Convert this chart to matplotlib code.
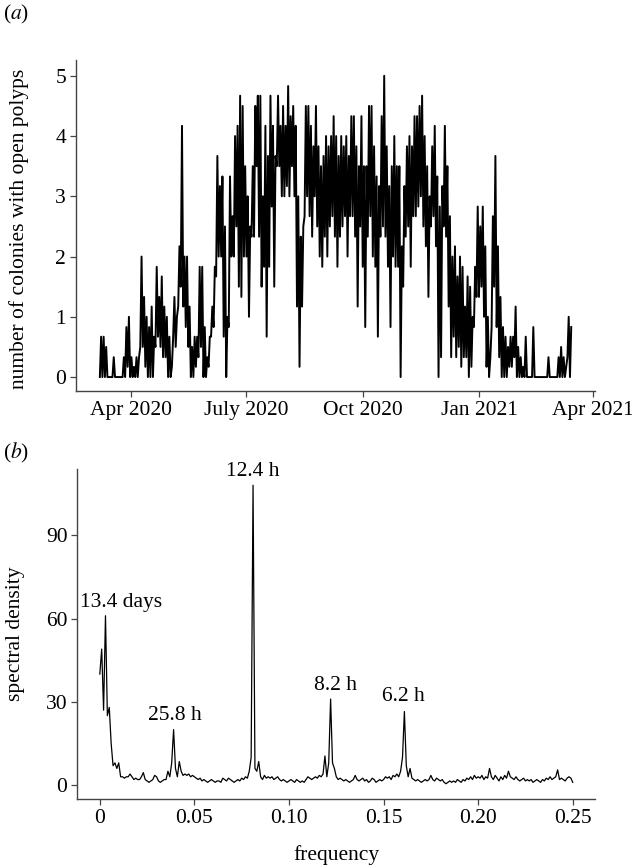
import numpy as np
import pandas as pd
import matplotlib
matplotlib.use("Agg")
import matplotlib.pyplot as plt

plt.rcParams['font.family'] = ['Liberation Serif', 'DejaVu Serif']
plt.rcParams['mathtext.fontset'] = 'stix'

# ---- panel (a): colonies with open polyps, 2-day blocks (high / low)
start_date = '2020-03-07'
open_hi = [0.67, 0.67, 0.5, 0, 0, 0.33, 0, 0, 0, 0.33,
           0.83, 1.0, 0.33, 0.17, 0.33, 0.33, 2.0, 1.33, 1.0, 0.83,
           1.17, 0.67, 1.83, 1.33, 1.67, 1.17, 1.0, 0.67, 0.17, 1.33,
           1.0, 2.17, 4.17, 2.0, 2.0, 1.17, 0.5, 0.67, 0.67, 1.83,
           1.83, 0.83, 0.33, 0.67, 1.17, 1.83, 3.67, 3.17, 3.33, 2.5,
           1.0, 3.33, 2.67, 4.0, 4.17, 4.67, 4.5, 3.5, 3.0, 2.5,
           3.5, 4.5, 4.67, 4.67, 3.0, 4.17, 3.67, 4.67, 4.17, 3.67,
           4.67, 4.17, 4.5, 4.17, 4.83, 4.33, 4.5, 4.17, 3.0, 2.33,
           2.5, 4.5, 4.5, 4.17, 3.83, 4.5, 3.83, 3.5, 3.67, 4.0,
           3.83, 4.0, 4.33, 4.0, 3.67, 4.0, 3.83, 4.0, 3.67, 4.33,
           4.33, 3.83, 3.5, 4.33, 3.5, 3.5, 4.5, 4.5, 3.83, 3.33,
           3.17, 4.33, 5.0, 3.83, 3.17, 3.5, 4.0, 3.5, 3.5, 2.17,
           3.17, 3.83, 4.0, 3.83, 4.33, 4.33, 4.5, 4.67, 4.0, 3.5,
           3.0, 3.83, 4.17, 3.33, 2.83, 3.17, 4.17, 3.5, 2.67, 2.0,
           2.17, 1.67, 2.0, 1.83, 1.17, 1.67, 1.5, 1.0, 1.83, 2.83,
           2.5, 2.83, 2.17, 1.0, 0.33, 2.67, 3.67, 2.17, 1.33, 0.83,
           0.67, 0.5, 0.67, 0.67, 1.17, 0.5, 0.33, 0.17, 0.67, 0,
           0, 0.83, 0, 0, 0, 0, 0, 0.33, 0, 0,
           0, 0.33, 0.5, 0.33, 0.17, 1.0, 0.83]
open_lo = [0, 0, 0, 0, 0, 0, 0, 0, 0, 0,
           0, 0.17, 0, 0, 0, 0, 0.5, 0.5, 0.17, 0,
           0, 0, 0.5, 0.67, 0.5, 0.33, 0.33, 0, 0, 0.67,
           0.5, 1.17, 1.5, 1.17, 0.83, 0.5, 0, 0, 0.17, 0.33,
           0.5, 0, 0, 0.17, 0.67, 0.83, 1.67, 2.0, 2.0, 0.67,
           0, 0.83, 2.0, 2.0, 2.5, 1.5, 1.33, 2.0, 2.0, 1.0,
           2.33, 2.33, 3.5, 2.33, 1.5, 1.83, 0.67, 1.83, 2.83, 1.5,
           3.5, 3.5, 3.0, 3.0, 3.17, 3.0, 3.5, 3.0, 1.17, 0.17,
           1.17, 2.67, 3.0, 2.67, 2.33, 3.0, 2.5, 2.0, 1.83, 2.33,
           2.0, 2.5, 2.67, 2.33, 1.83, 2.33, 2.5, 2.67, 2.0, 2.67,
           2.67, 2.33, 1.17, 2.5, 1.83, 0.83, 2.33, 2.67, 2.0, 1.83,
           0.67, 2.33, 2.5, 2.33, 1.83, 0.83, 2.0, 1.83, 1.83, 0,
           1.5, 2.33, 2.5, 1.83, 2.67, 2.67, 2.83, 3.0, 2.5, 2.17,
           1.33, 2.5, 2.67, 2.17, 0, 0.33, 2.5, 2.33, 1.17, 0.33,
           0.67, 0.33, 0.5, 0.17, 0.33, 0.33, 0, 0.17, 0.83, 1.33,
           1.33, 1.5, 1.0, 0.17, 0, 0.83, 1.5, 0.83, 0.33, 0,
           0, 0, 0.17, 0.17, 0.33, 0, 0, 0, 0, 0,
           0, 0, 0, 0, 0, 0, 0, 0, 0, 0,
           0, 0, 0, 0, 0, 0.33, 0]

# ---- panel (b): spectral density on a 0.001 frequency grid
freq = np.round(np.arange(0, 0.2505, 0.001), 3)
spec = [40, 49, 27, 61, 25, 28, 15, 7, 8, 6,
        8, 3, 3, 2.5, 3, 3, 4, 3, 2, 2.5,
        2, 2, 3, 4.5, 2, 1.5, 1, 1.5, 2, 3.5,
        3, 1.5, 1, 1.5, 2, 2, 5, 3, 8, 20,
        6, 3, 8.5, 5, 3.5, 4, 3.5, 4, 3, 3.5,
        3, 2.5, 2, 2.5, 1.5, 2, 1.5, 1, 1.5, 2,
        1.5, 1, 1.5, 1.5, 1, 2.5, 2, 1.5, 2.5, 2,
        1.5, 1, 1.5, 2, 1.5, 2.5, 2, 3, 2.5, 5,
        10, 108, 6, 5, 8.5, 3, 2, 3.5, 2.5, 3,
        2.5, 3, 2, 2.5, 3, 2, 1.5, 2, 1.5, 1,
        1.5, 2, 1.5, 1, 2, 1.5, 1, 1.5, 1, 2,
        3, 2.5, 2, 2.5, 3, 2.5, 3.5, 3, 4, 10.5,
        3, 8, 31, 8, 6, 3, 2, 2.5, 2, 1.5,
        2, 1.5, 1, 1.5, 2, 3.5, 2, 1.5, 2, 2.5,
        1.5, 2, 1, 1.5, 2.5, 2, 1, 1.5, 2, 1.5,
        2, 3, 2.5, 3, 2, 3.5, 3, 4, 3, 5,
        10, 26.5, 7, 3, 6, 2.5, 2, 1.5, 2, 1.5,
        1, 1.5, 2, 1.5, 2, 3.5, 2, 1.5, 2.5, 2,
        1.5, 2, 1, 0.5, 1, 1.5, 1, 1.5, 1, 2,
        1.5, 1, 2, 1.5, 2.5, 2, 3, 2, 3.5, 2.5,
        3, 2.5, 3.5, 2, 3, 2.5, 6, 3, 2, 3.5,
        2.5, 1.5, 3, 2, 3.5, 2.5, 5, 3, 2.5, 2,
        3, 2, 1.5, 2, 2.5, 1.5, 2, 1.5, 2, 1,
        1.5, 2, 1.5, 1, 2, 1.5, 2.5, 2, 3, 2,
        2.5, 3, 5.5, 2, 2.5, 2, 1.5, 2.5, 3, 2.5,
        1]

peak_labels = ['13.4 days', '25.8 h', '12.4 h', '8.2 h', '6.2 h']
peak_x = [0.0113, 0.0396, 0.081, 0.1244, 0.1605]
peak_y = [65.7, 25.2, 113, 36, 31.8]

# build the zig-zag time series (low at block start, high one day later)
blocks = pd.date_range(start_date, periods=len(open_hi), freq='2D')
t = np.empty(2 * len(blocks), dtype='datetime64[ns]')
t[0::2] = blocks.values
t[1::2] = (blocks + pd.Timedelta(days=1)).values
v = np.empty(2 * len(blocks))
v[0::2] = open_lo
v[1::2] = open_hi

fig = plt.figure(figsize=(6.32, 8.68), dpi=100)
ax1 = fig.add_axes([0.120, 0.5495, 0.821, 0.381])
ax2 = fig.add_axes([0.122, 0.0795, 0.819, 0.380])

fs = 15.5
spine_col = '#444444'

for ax in (ax1, ax2):
    ax.spines['top'].set_visible(False)
    ax.spines['right'].set_visible(False)
    for s in ('left', 'bottom'):
        ax.spines[s].set_color(spine_col)
        ax.spines[s].set_linewidth(1.0)
    ax.tick_params(colors=spine_col, labelcolor='black', labelsize=fs,
                   length=4, width=0.9, pad=3)

# (a)
ax1.plot(t, v, color='black', linewidth=1.4)
ax1.set_xlim(pd.Timestamp('2020-02-17'), pd.Timestamp('2021-04-02 14:00'))
ax1.set_ylim(-0.232, 5.257)
ax1.set_yticks([0, 1, 2, 3, 4, 5])
ax1.set_xticks(pd.to_datetime(['2020-04-01', '2020-07-01', '2020-10-01',
                               '2021-01-01', '2021-04-01']))
ax1.set_xticklabels(['Apr 2020', 'July 2020', 'Oct 2020', 'Jan 2021', 'Apr 2021'])
ax1.set_ylabel('number of colonies with open polyps', fontsize=fs)
ax1.yaxis.set_label_coords(-0.090, 0.49)

# (b)
ax2.plot(freq, spec, color='black', linewidth=0.9)
ax2.set_xlim(-0.012, 0.2616)
ax2.set_ylim(-5.0, 113.8)
ax2.set_yticks([0, 30, 60, 90])
ax2.set_xticks([0, 0.05, 0.10, 0.15, 0.20, 0.25])
ax2.set_xticklabels(['0', '0.05', '0.10', '0.15', '0.20', '0.25'])
ax2.set_xlabel('frequency', fontsize=fs)
ax2.xaxis.set_label_coords(0.5, -0.14)
ax2.set_ylabel('spectral density', fontsize=fs)
ax2.yaxis.set_label_coords(-0.100, 0.5)
for lab, px, py in zip(peak_labels, peak_x, peak_y):
    ax2.text(px, py, lab, fontsize=fs, ha='center', va='center')

fig.text(0.005, 0.983, '($a$)', fontsize=fs, ha='left', va='center')
fig.text(0.005, 0.478, '($b$)', fontsize=fs, ha='left', va='center')

fig.savefig('out.png', dpi=100)
